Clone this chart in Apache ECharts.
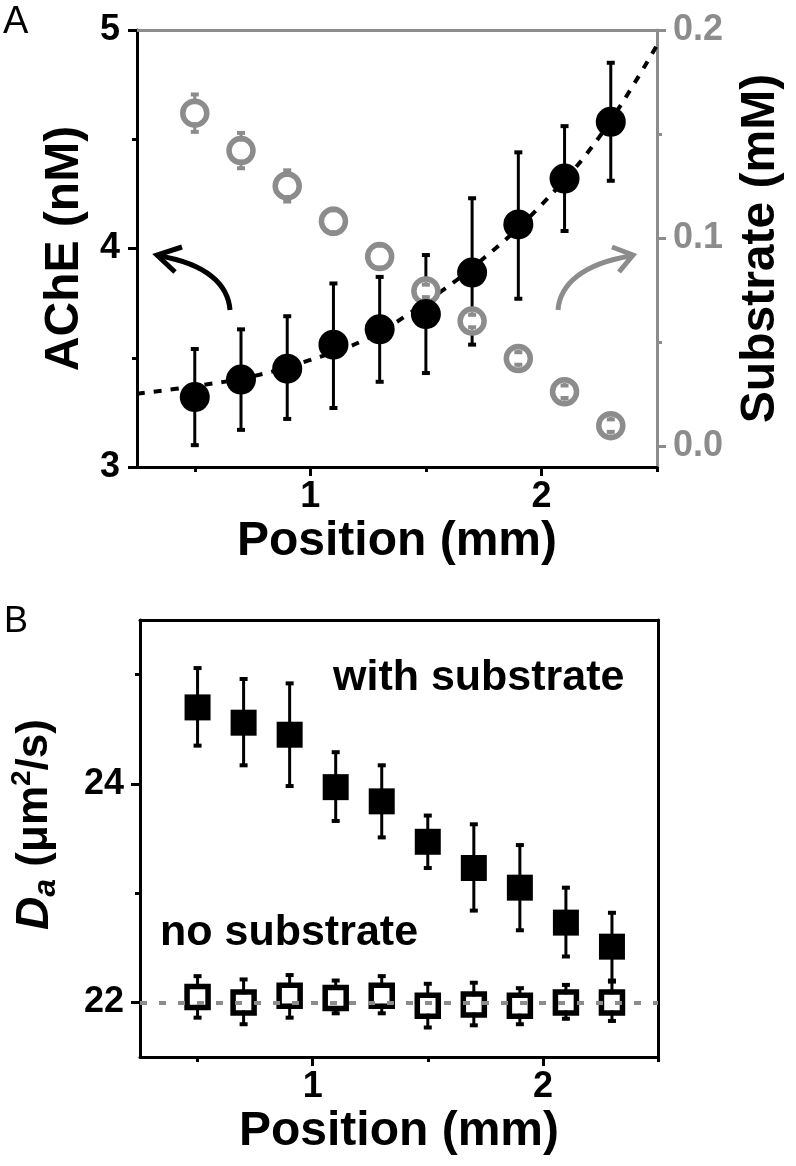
<!DOCTYPE html>
<html>
<head>
<meta charset="utf-8">
<script src="https://cdn.jsdelivr.net/npm/echarts@6/dist/echarts.min.js"></script>
<style>
  html, body { margin: 0; padding: 0; background: #fff; }
  #chart { width: 796px; height: 1166px; }
</style>
</head>
<body>
<div id="chart"></div>
<script>
// ---------------- data ----------------
const positions = [0.5, 0.7, 0.9, 1.1, 1.3, 1.5, 1.7, 1.9, 2.1, 2.3];

// Panel A: AChE (nM), left axis
const acheMean  = [3.32, 3.40, 3.45, 3.56, 3.63, 3.70, 3.89, 4.11, 4.32, 4.58];
const acheUpper = [3.54, 3.63, 3.69, 3.84, 3.87, 3.97, 4.23, 4.44, 4.56, 4.85];
const acheLower = [3.10, 3.17, 3.22, 3.27, 3.39, 3.43, 3.56, 3.77, 4.08, 4.31];

// Panel A: substrate (mM), right axis
const substrateMean  = [0.160, 0.142, 0.125, 0.108, 0.091, 0.0745, 0.060, 0.042, 0.026, 0.0097];
const substrateUpper = [0.169, 0.1505, 0.1325, 0.114, 0.0965, 0.0775, 0.063, 0.045, 0.029, 0.0127];
const substrateLower = [0.151, 0.1335, 0.1175, 0.102, 0.0855, 0.0715, 0.057, 0.039, 0.023, 0.0067];

// Panel A: dotted fit curve
const fitPosition = [0.25, 0.5, 0.75, 1.0, 1.25, 1.5, 1.75, 2.0, 2.25, 2.5];
const fitAche     = [3.335, 3.37, 3.415, 3.49, 3.59, 3.755, 3.955, 4.20, 4.51, 4.93];

// Panel B: Da (um^2/s)
const daWithMean  = [24.70, 24.56, 24.45, 23.97, 23.84, 23.47, 23.23, 23.05, 22.73, 22.51];
const daWithUpper = [25.06, 24.96, 24.92, 24.29, 24.17, 23.71, 23.63, 23.44, 23.05, 22.82];
const daWithLower = [24.35, 24.17, 23.98, 23.66, 23.51, 23.23, 22.84, 22.66, 22.42, 22.19];
const daNoMean    = [22.05, 22.00, 22.06, 22.04, 22.06, 21.97, 21.98, 21.97, 22.00, 22.00];
const daNoUpper   = [22.24, 22.21, 22.25, 22.20, 22.24, 22.17, 22.18, 22.13, 22.16, 22.20];
const daNoLower   = [21.86, 21.80, 21.86, 21.90, 21.90, 21.77, 21.79, 21.80, 21.85, 21.83];
const daReference = 22;

// tick labels
const xTickLabels      = [1, 2];
const xMinorTicks      = [0.5, 1.5, 2.5];
const acheTickLabels   = [3, 4, 5];
const acheMinorTicks   = [3.5, 4.5];
const substrateTickLabels = [0, 0.1, 0.2];
const substrateMinorTicks = [0.05, 0.15];
const daTickLabels     = [22, 24];
const daMinorTicks     = [23, 25];

// ---------------- styling ----------------
const FONT = "'Liberation Sans', Arial, Helvetica, sans-serif";
const GRAY = '#8c8c8c';
const BLACK = '#000';
const TITLE = { fontFamily: FONT, fontSize: 48, fontWeight: 'bold', color: BLACK };
const TICKFONT = { fontFamily: FONT, fontSize: 36, fontWeight: 'bold' };

function majorAxis(extra) {
  return Object.assign({ type: 'value', splitLine: { show: false } }, extra);
}

function xMain(grid, name) {
  return majorAxis({
    gridIndex: grid, position: 'bottom', offset: 0, min: 0.25, max: 2.5,
    axisLine: { onZero: false, lineStyle: { color: BLACK, width: 3 } },
    axisTick: { customValues: xTickLabels, length: 9, lineStyle: { color: BLACK, width: 3 } },
    axisLabel: Object.assign({ customValues: xTickLabels, color: BLACK, margin: 12 }, TICKFONT),
    name: name, nameLocation: 'middle', nameGap: 51, nameTextStyle: TITLE
  });
}
function xMinor(grid) {
  return majorAxis({
    gridIndex: grid, position: 'bottom', offset: 0, min: 0.25, max: 2.5,
    axisLine: { show: false, onZero: false },
    axisTick: { customValues: xMinorTicks, length: 5, lineStyle: { color: BLACK, width: 3 } },
    axisLabel: { show: false }
  });
}
function frameAxisX(grid, color) {
  return majorAxis({
    gridIndex: grid, position: 'top', offset: 0, min: 0.25, max: 2.5,
    axisLine: { onZero: false, lineStyle: { color: color, width: 3 } },
    axisTick: { show: false }, axisLabel: { show: false }
  });
}

function errorBars(color, gap, capHalf) {
  return function (params, api) {
    const x = api.value(0);
    const pm = api.coord([x, api.value(1)]);
    const pl = api.coord([x, api.value(2)]);
    const ph = api.coord([x, api.value(3)]);
    const cx = pm[0];
    const stem = { stroke: color, lineWidth: 3 };
    const cap = { stroke: color, lineWidth: 4 };
    const children = [];
    if (gap > 0) {
      children.push({ type: 'line', shape: { x1: cx, y1: pm[1] - gap, x2: cx, y2: ph[1] }, style: stem });
      children.push({ type: 'line', shape: { x1: cx, y1: pm[1] + gap, x2: cx, y2: pl[1] }, style: stem });
    } else {
      children.push({ type: 'line', shape: { x1: cx, y1: ph[1], x2: cx, y2: pl[1] }, style: stem });
    }
    children.push({ type: 'line', shape: { x1: cx - capHalf, y1: ph[1], x2: cx + capHalf, y2: ph[1] }, style: cap });
    children.push({ type: 'line', shape: { x1: cx - capHalf, y1: pl[1], x2: cx + capHalf, y2: pl[1] }, style: cap });
    return { type: 'group', children: children };
  };
}

function triples(mean, lower, upper) {
  return positions.map((p, i) => [p, mean[i], lower[i], upper[i]]);
}

const chart = echarts.init(document.getElementById('chart'), null, { renderer: 'canvas' });

const option = {
  animation: false,
  backgroundColor: '#fff',
  textStyle: { fontFamily: FONT },
  grid: [
    { left: 137, top: 30, width: 520, height: 437 },
    { left: 138, top: 620, width: 520, height: 437 }
  ],
  xAxis: [
    xMain(0, 'Position (mm)'),
    xMinor(0),
    frameAxisX(0, GRAY),
    xMain(1, 'Position (mm)'),
    xMinor(1),
    frameAxisX(1, BLACK)
  ],
  yAxis: [
    majorAxis({
      gridIndex: 0, position: 'left', offset: 0, min: 3, max: 5,
      axisLine: { onZero: false, lineStyle: { color: BLACK, width: 3 } },
      axisTick: { customValues: acheTickLabels, length: 9, lineStyle: { color: BLACK, width: 3 } },
      axisLabel: Object.assign({ customValues: acheTickLabels, color: BLACK, margin: 17 }, TICKFONT),
      name: 'AChE (nM)', nameLocation: 'middle', nameRotate: 90, nameGap: 47, nameTextStyle: TITLE
    }),
    majorAxis({
      gridIndex: 0, position: 'left', offset: 0, min: 3, max: 5,
      axisLine: { show: false, onZero: false },
      axisTick: { customValues: acheMinorTicks, length: 5, lineStyle: { color: BLACK, width: 3 } },
      axisLabel: { show: false }
    }),
    majorAxis({
      gridIndex: 0, position: 'right', offset: 0, min: -0.0102, max: 0.2,
      axisLine: { onZero: false, lineStyle: { color: GRAY, width: 3 } },
      axisTick: { customValues: substrateTickLabels, length: 9, lineStyle: { color: GRAY, width: 3 } },
      axisLabel: Object.assign({ customValues: substrateTickLabels, color: GRAY, margin: 16,
        formatter: v => Number(v).toFixed(1) }, TICKFONT),
      name: 'Substrate (mM)', nameLocation: 'middle', nameRotate: 90, nameGap: 80, nameTextStyle: TITLE
    }),
    majorAxis({
      gridIndex: 0, position: 'right', offset: 0, min: -0.0102, max: 0.2,
      axisLine: { show: false, onZero: false },
      axisTick: { customValues: substrateMinorTicks, length: 5, lineStyle: { color: GRAY, width: 3 } },
      axisLabel: { show: false }
    }),
    majorAxis({
      gridIndex: 1, position: 'left', offset: 0, min: 21.5, max: 25.5,
      axisLine: { onZero: false, lineStyle: { color: BLACK, width: 3 } },
      axisTick: { customValues: daTickLabels, length: 9, lineStyle: { color: BLACK, width: 3 } },
      axisLabel: Object.assign({ customValues: daTickLabels, color: BLACK, margin: 16 }, TICKFONT),
      name: '{d|D}{sub|a}{n| (μm}{sup|2}{n|/s)}', nameLocation: 'middle', nameRotate: 90, nameGap: 78,
      nameTextStyle: {
        fontFamily: FONT, color: BLACK, padding: [0, 0, 0, 28],
        rich: {
          d:   { fontFamily: FONT, fontSize: 46, fontWeight: 'bold', fontStyle: 'italic', lineHeight: 54, color: BLACK },
          sub: { fontFamily: FONT, fontSize: 32, fontWeight: 'bold', fontStyle: 'italic', lineHeight: 26, verticalAlign: 'bottom', color: BLACK },
          n:   { fontFamily: FONT, fontSize: 44, fontWeight: 'bold', lineHeight: 54, color: BLACK },
          sup: { fontFamily: FONT, fontSize: 28, fontWeight: 'bold', lineHeight: 22, verticalAlign: 'top', color: BLACK }
        }
      }
    }),
    majorAxis({
      gridIndex: 1, position: 'left', offset: 0, min: 21.5, max: 25.5,
      axisLine: { show: false, onZero: false },
      axisTick: { customValues: daMinorTicks, length: 5, lineStyle: { color: BLACK, width: 3 } },
      axisLabel: { show: false }
    }),
    majorAxis({
      gridIndex: 1, position: 'right', offset: 0, min: 21.5, max: 25.5,
      axisLine: { onZero: false, lineStyle: { color: BLACK, width: 3 } },
      axisTick: { show: false }, axisLabel: { show: false }
    })
  ],
  series: [
    {
      name: 'fit', type: 'line', xAxisIndex: 0, yAxisIndex: 0, z: 2,
      data: fitPosition.map((p, i) => [p, fitAche[i]]),
      smooth: 0.4, symbol: 'none', silent: true,
      lineStyle: { color: BLACK, width: 4, type: [8, 9] }
    },
    {
      name: 'AChE error', type: 'custom', xAxisIndex: 0, yAxisIndex: 0, z: 2,
      data: triples(acheMean, acheLower, acheUpper),
      encode: { x: 0, y: 1 },
      renderItem: errorBars(BLACK, 0, 4)
    },
    {
      name: 'Substrate', type: 'scatter', xAxisIndex: 0, yAxisIndex: 2, z: 3,
      data: positions.map((p, i) => [p, substrateMean[i]]),
      symbol: 'circle', symbolSize: 24,
      itemStyle: { color: '#fff', borderColor: GRAY, borderWidth: 5.5, opacity: 1 }
    },
    {
      name: 'Substrate error', type: 'custom', xAxisIndex: 0, yAxisIndex: 2, z: 4,
      data: triples(substrateMean, substrateLower, substrateUpper),
      encode: { x: 0, y: 1 },
      renderItem: errorBars(GRAY, 9, 4)
    },
    {
      name: 'AChE', type: 'scatter', xAxisIndex: 0, yAxisIndex: 0, z: 5,
      data: positions.map((p, i) => [p, acheMean[i]]),
      symbol: 'circle', symbolSize: 30,
      itemStyle: { color: BLACK, opacity: 1 }
    },
    {
      name: 'with substrate error', type: 'custom', xAxisIndex: 3, yAxisIndex: 4, z: 2,
      data: triples(daWithMean, daWithLower, daWithUpper),
      encode: { x: 0, y: 1 },
      renderItem: errorBars(BLACK, 0, 4)
    },
    {
      name: 'with substrate', type: 'scatter', xAxisIndex: 3, yAxisIndex: 4, z: 3,
      data: positions.map((p, i) => [p, daWithMean[i]]),
      symbol: 'rect', symbolSize: 26,
      itemStyle: { color: BLACK, opacity: 1 }
    },
    {
      name: 'no substrate error', type: 'custom', xAxisIndex: 3, yAxisIndex: 4, z: 3,
      data: triples(daNoMean, daNoLower, daNoUpper),
      encode: { x: 0, y: 1 },
      renderItem: errorBars(BLACK, 8, 4)
    },
    {
      name: 'no substrate', type: 'scatter', xAxisIndex: 3, yAxisIndex: 4, z: 4,
      data: positions.map((p, i) => [p, daNoMean[i]]),
      symbol: 'rect', symbolSize: 21,
      itemStyle: { color: 'rgba(255,255,255,0)', borderColor: BLACK, borderWidth: 5.5, opacity: 1 }
    },
    {
      name: 'reference', type: 'line', xAxisIndex: 3, yAxisIndex: 4, data: [], z: 6,
      markLine: {
        silent: true, symbol: 'none', label: { show: false },
        lineStyle: { color: GRAY, width: 4, type: [7, 12] },
        data: [{ yAxis: daReference }]
      }
    }
  ],
  graphic: [
    { type: 'text', left: 3, top: 4, style: { text: 'A', font: 'normal 38px ' + FONT, fill: BLACK } },
    { type: 'text', left: 4, top: 604, style: { text: 'B', font: 'normal 36px ' + FONT, fill: BLACK } },
    { type: 'text', x: 333, y: 678, style: { text: 'with substrate', font: 'bold 43px ' + FONT, fill: BLACK, align: 'left', verticalAlign: 'middle' } },
    { type: 'text', x: 160, y: 933, style: { text: 'no substrate', font: 'bold 43px ' + FONT, fill: BLACK, align: 'left', verticalAlign: 'middle' } },
    // curved arrows
    { type: 'bezierCurve', shape: { x1: 230, y1: 310, cpx1: 228, cpy1: 284, cpx2: 206, cpy2: 264, x2: 160, y2: 256 },
      style: { stroke: BLACK, lineWidth: 5, fill: 'none' } },
    { type: 'polyline', shape: { points: [[182, 247], [157, 255], [175, 272]] },
      style: { stroke: BLACK, lineWidth: 5, fill: 'none', lineJoin: 'miter' } },
    { type: 'bezierCurve', shape: { x1: 558, y1: 310, cpx1: 560, cpy1: 284, cpx2: 583, cpy2: 264, x2: 630, y2: 256 },
      style: { stroke: GRAY, lineWidth: 5, fill: 'none' } },
    { type: 'polyline', shape: { points: [[612, 247], [633, 255], [619, 272]] },
      style: { stroke: GRAY, lineWidth: 5, fill: 'none', lineJoin: 'miter' } }
  ]
};

chart.setOption(option);
</script>
</body>
</html>
